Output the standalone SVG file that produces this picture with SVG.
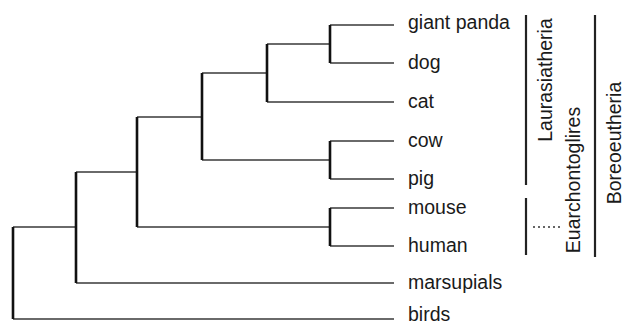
<svg xmlns="http://www.w3.org/2000/svg" width="625" height="326" viewBox="0 0 625 326">
<style>
.h{stroke:#3a3a3a;stroke-width:1.6;fill:none}
.v{stroke:#111;stroke-width:2.6;fill:none}
.bar{stroke:#222;stroke-width:2.2;fill:none}
.dot{stroke:#333;stroke-width:1.6;stroke-dasharray:2 3;fill:none}
text{font-family:"Liberation Sans",Arial,sans-serif;font-size:19.5px;fill:#1a1a1a}
.r{text-anchor:middle}
</style>
<rect width="625" height="326" fill="#fff"/>
<g id="connectors">
<path class="h" d="M330 25H394M330 63H394M267 44H330M267 102H394M330 141H394M330 179H394M202 160H330M202 73H267M137 117H202M330 208H394M330 246H394M137 227H330M76 172H137M76 283H394M13 227H76M13 319H394"/>
<path class="v" d="M330 25V63M267 44V102M330 141V179M202 73V160M330 208V246M137 117V227M76 172V283M13 227V319"/>
</g>
<g id="leaf-giant-panda"><text x="408" y="29">giant panda</text></g>
<g id="leaf-dog"><text x="408" y="69">dog</text></g>
<g id="leaf-cat"><text x="408" y="108">cat</text></g>
<g id="leaf-cow"><text x="408" y="147">cow</text></g>
<g id="leaf-pig"><text x="408" y="185">pig</text></g>
<g id="leaf-mouse"><text x="408" y="214">mouse</text></g>
<g id="leaf-human"><text x="408" y="252">human</text></g>
<g id="leaf-marsupials"><text x="408" y="289">marsupials</text></g>
<g id="leaf-birds"><text x="408" y="321">birds</text></g>
<g id="clade-laurasiatheria">
<line class="bar" x1="526" y1="15" x2="526" y2="185"/>
<text class="r" transform="translate(552 80) rotate(-90)">Laurasiatheria</text>
</g>
<g id="clade-euarchontoglires">
<line class="bar" x1="526" y1="198" x2="526" y2="255"/>
<line class="dot" x1="533" y1="227" x2="563" y2="227"/>
<text class="r" transform="translate(580 180) rotate(-90)">Euarchontoglires</text>
</g>
<g id="clade-boreoeutheria">
<line class="bar" x1="595" y1="15" x2="595" y2="257"/>
<text class="r" transform="translate(621 143) rotate(-90)">Boreoeutheria</text>
</g>
</svg>
